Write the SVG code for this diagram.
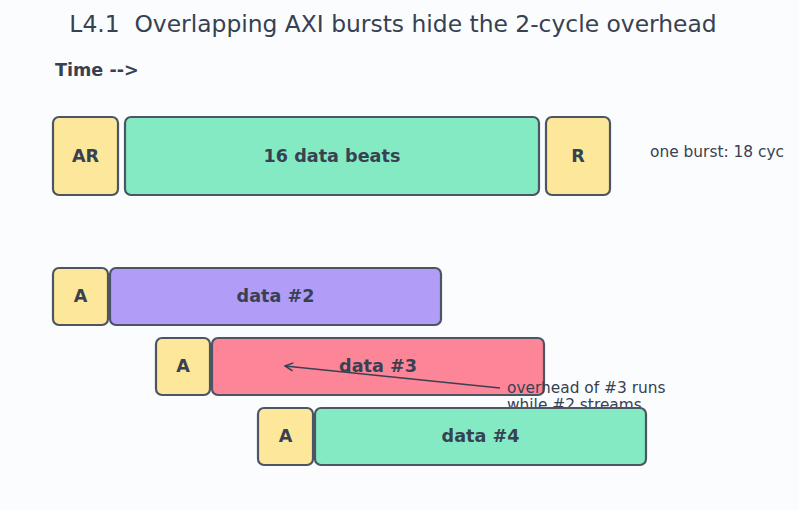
<svg xmlns="http://www.w3.org/2000/svg" width="799" height="510" viewBox="0 0 799 510">
<defs>
<marker id="ah" markerWidth="10" markerHeight="10" refX="9" refY="5" orient="auto" markerUnits="userSpaceOnUse">
<path d="M1,1 L9,5 L1,9" fill="none" stroke="#374151" stroke-width="1.5"/>
</marker>
</defs>
<style>
text{font-family:"DejaVu Sans","Noto Sans",sans-serif;fill:#374151}
.b{stroke:#4b5563;stroke-width:2.2}
.y{fill:#fde79a}.g{fill:#84eac3}.p{fill:#b19cf8}.r{fill:#fd8598}
.lb{font-weight:bold;font-size:17.6px;text-anchor:middle}
.n{font-size:15.4px}
</style>
<rect width="799" height="510" fill="#fbfcfe"/>
<text x="393" y="32" font-size="23.4" text-anchor="middle" xml:space="preserve" style="white-space:pre">L4.1  Overlapping AXI bursts hide the 2-cycle overhead</text>
<text x="55" y="76" font-size="17.6" font-weight="bold">Time --&gt;</text>
<g id="ar1"><rect class="b y" x="53" y="117" width="65" height="78" rx="6"/><text class="lb" x="85.5" y="162">AR</text></g>
<g id="d1"><rect class="b g" x="125" y="117" width="414" height="78" rx="6"/><text class="lb" x="332" y="162">16 data beats</text></g>
<g id="r1"><rect class="b y" x="546" y="117" width="64" height="78" rx="6"/><text class="lb" x="578" y="162">R</text></g>
<text class="n" x="650" y="157">one burst: 18 cyc</text>
<g id="a2"><rect class="b y" x="53" y="268" width="55" height="57" rx="6"/><text class="lb" x="80.5" y="302">A</text></g>
<g id="d2"><rect class="b p" x="110" y="268" width="331" height="57" rx="6"/><text class="lb" x="275.5" y="302">data #2</text></g>
<g id="a3"><rect class="b y" x="156" y="338" width="54" height="57" rx="6"/><text class="lb" x="183" y="372">A</text></g>
<g id="d3"><rect class="b r" x="212" y="338" width="332" height="57" rx="6"/><text class="lb" x="378" y="372">data #3</text></g>
<g id="connectors"><line x1="500" y1="388" x2="285" y2="366" stroke="#374151" stroke-width="1.6" marker-end="url(#ah)"/></g>
<text class="n" x="507" y="393">overhead of #3 runs</text>
<text class="n" x="507" y="410">while #2 streams</text>
<g id="a4"><rect class="b y" x="258" y="408" width="55" height="57" rx="6"/><text class="lb" x="285.5" y="442">A</text></g>
<g id="d4"><rect class="b g" x="315" y="408" width="331" height="57" rx="6"/><text class="lb" x="480.5" y="442">data #4</text></g>
</svg>
